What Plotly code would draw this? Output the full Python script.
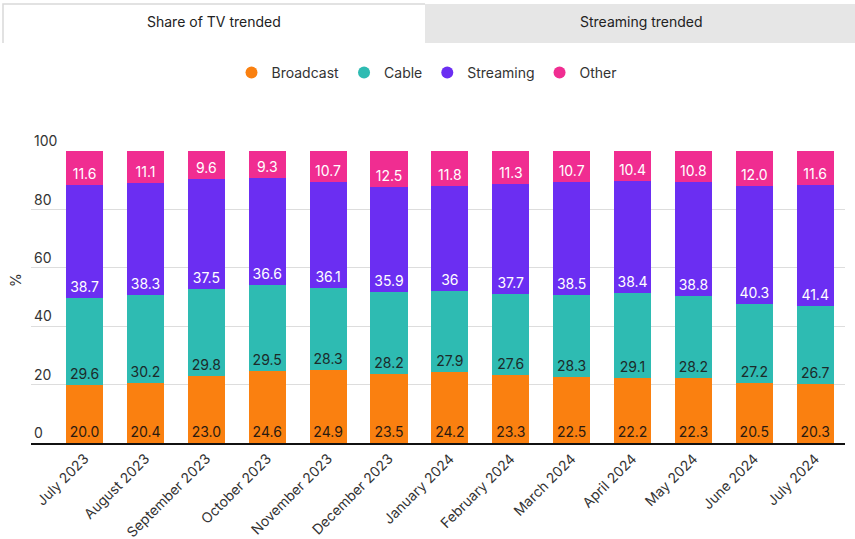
import plotly.graph_objects as go

# Monthly share of TV (%), July 2023 - July 2024
months = [
    "July 2023", "August 2023", "September 2023", "October 2023",
    "November 2023", "December 2023", "January 2024", "February 2024",
    "March 2024", "April 2024", "May 2024", "June 2024", "July 2024",
]
broadcast = [20.0, 20.4, 23.0, 24.6, 24.9, 23.5, 24.2, 23.3, 22.5, 22.2, 22.3, 20.5, 20.3]
cable = [29.6, 30.2, 29.8, 29.5, 28.3, 28.2, 27.9, 27.6, 28.3, 29.1, 28.2, 27.2, 26.7]
streaming = [38.7, 38.3, 37.5, 36.6, 36.1, 35.9, 36, 37.7, 38.5, 38.4, 38.8, 40.3, 41.4]
other = [11.6, 11.1, 9.6, 9.3, 10.7, 12.5, 11.8, 11.3, 10.7, 10.4, 10.8, 12.0, 11.6]

series = [
    ("Broadcast", broadcast, "#FA8010", "#2a1a10"),
    ("Cable", cable, "#2EBBB2", "#1c2a2a"),
    ("Streaming", streaming, "#6B2EF2", "white"),
    ("Other", other, "#F02D91", "white"),
]

FONT = "Inter, Roboto, sans-serif"

# pixel layout helpers
W, H = 855, 539
ML, MR, MT, MB = 31, 10, 151, 96
PW, PH = W - ML - MR, H - MT - MB


def px(x):
    return (x - ML) / PW


def py(y):
    return (H - MB - y) / PH


fig = go.Figure()

for name, vals, color, tcolor in series:
    fig.add_trace(
        go.Bar(
            x=months,
            y=vals,
            name=name,
            marker=dict(color=color, line=dict(width=0)),
            text=[str(v) for v in vals],
            textposition="inside",
            insidetextanchor="start",
            textangle=0,
            constraintext="none",
            textfont=dict(color=tcolor, size=14, family=FONT),
            showlegend=False,
            hoverinfo="x+y+name",
        )
    )

# legend entries with round markers
for name, vals, color, tcolor in series:
    fig.add_trace(
        go.Scatter(
            x=[None],
            y=[None],
            mode="markers",
            name=name,
            marker=dict(color=color, size=14, symbol="circle"),
        )
    )

# tabs above the chart
fig.add_shape(
    type="rect", xref="paper", yref="paper",
    x0=px(425), x1=px(855), y0=py(43), y1=py(4),
    fillcolor="#E6E6E6", line=dict(width=0), layer="below",
)
fig.add_shape(
    type="path", xref="paper", yref="paper",
    path=f"M {px(3)},{py(43)} L {px(3)},{py(4)} L {px(425)},{py(4)}",
    line=dict(color="#D9D9D9", width=1.5),
)
fig.add_annotation(
    x=px(214), y=py(22), xref="paper", yref="paper",
    xanchor="center", yanchor="middle",
    text="Share of TV trended", showarrow=False,
    font=dict(size=14, color="#222222", family=FONT),
)
fig.add_annotation(
    x=px(641), y=py(22), xref="paper", yref="paper",
    xanchor="center", yanchor="middle",
    text="Streaming trended", showarrow=False,
    font=dict(size=14, color="#222222", family=FONT),
)

# y-axis title
fig.add_annotation(
    x=px(15), y=py(280), xref="paper", yref="paper",
    xanchor="center", yanchor="middle",
    text="%", showarrow=False, textangle=-90,
    font=dict(size=14, color="#333333", family=FONT),
)

fig.update_layout(
    width=W,
    height=H,
    margin=dict(l=ML, r=MR, t=MT, b=MB, autoexpand=False),
    barmode="stack",
    bargap=0.39,
    plot_bgcolor="white",
    paper_bgcolor="white",
    font=dict(family=FONT, size=14, color="#333333"),
    legend=dict(
        orientation="h",
        traceorder="normal",
        x=px(427), xanchor="center",
        y=py(73), yanchor="middle",
        font=dict(size=14, color="#333333"),
        itemsizing="constant",
    ),
    xaxis=dict(
        range=[-0.88, 12.49],
        tickangle=-45,
        showgrid=False,
        showline=True,
        linecolor="#111111",
        linewidth=2,
        ticks="",
        automargin=False,
        tickfont=dict(size=14, color="#333333"),
    ),
    yaxis=dict(
        range=[0, 100],
        tickvals=[0, 20, 40, 60, 80, 100],
        ticklabelposition="inside top",
        ticklabeloverflow="allow",
        showgrid=True,
        gridcolor="#DDDDDD",
        zeroline=False,
        automargin=False,
        tickfont=dict(size=14, color="#333333"),
    ),
)

fig.write_html(
    "out.html",
    config={"displayModeBar": False},
    post_script="document.body.style.margin='0';",
)
